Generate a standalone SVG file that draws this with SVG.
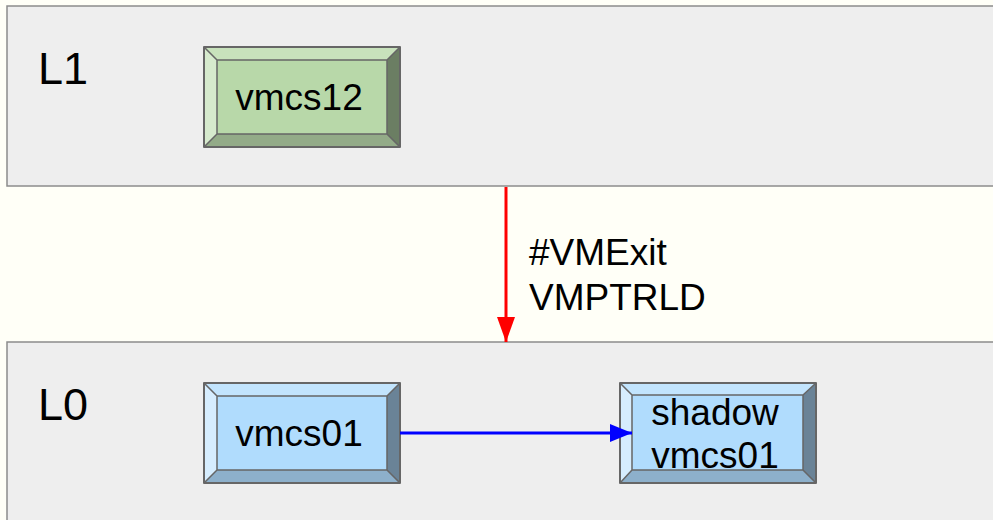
<svg xmlns="http://www.w3.org/2000/svg" width="993" height="520" viewBox="0 0 993 520">
  <style>
    .panel { fill: #eeeeee; stroke: #8c8c8c; stroke-width: 1.5; }
    .lbl { font-family: "Liberation Sans", Arial, sans-serif; font-size: 37px; fill: #000; }
    .big { font-size: 45px; }
    .edge { stroke: #666666; stroke-width: 2; stroke-linejoin: round; }
    .seam { stroke: #666666; stroke-width: 1.5; fill: none; }
  </style>
  <defs>
    <marker id="headRed" markerWidth="25" markerHeight="18" refX="25" refY="9" orient="auto" markerUnits="userSpaceOnUse" viewBox="0 0 25 18">
      <path d="M0 0 L25 9 L0 18 Z" fill="#ff0000"/>
    </marker>
    <marker id="headBlue" markerWidth="22" markerHeight="18" refX="22" refY="9" orient="auto" markerUnits="userSpaceOnUse" viewBox="0 0 22 18">
      <path d="M0 0 L22 9 L0 18 Z" fill="#0000ff"/>
    </marker>
  </defs>

  <rect x="0" y="0" width="993" height="520" fill="#fffff7"/>

  <!-- guest level -->
  <g id="layer-L1">
    <rect class="panel" x="7" y="6" width="990" height="180"/>
    <text class="lbl big" x="38" y="84">L1</text>
  </g>

  <!-- host level -->
  <g id="layer-L0">
    <rect class="panel" x="7" y="342" width="990" height="182"/>
    <text class="lbl big" x="38" y="420">L0</text>
  </g>

  <!-- bevelled boxes -->
  <g id="vmcs12">
    <polygon points="204,47 400,47 387,60 217,60" fill="#c8e2bc"/>
    <polygon points="204,47 217,60 217,134 204,147" fill="#d6eacd"/>
    <polygon points="400,47 400,147 387,134 387,60" fill="#6b7e63"/>
    <polygon points="204,147 400,147 387,134 217,134" fill="#93ab88"/>
    <rect x="217" y="60" width="170" height="74" fill="#b8d8a9"/>
    <path class="seam" d="M204 47 L217 60 M400 47 L387 60 M400 147 L387 134 M204 147 L217 134 M217 60 H387 V134 H217 Z"/>
    <rect class="edge" x="204" y="47" width="196" height="100" fill="none"/>
    <text class="lbl" x="299" y="110" text-anchor="middle">vmcs12</text>
  </g>

  <g id="vmcs01">
    <polygon points="204,383 400,383 387,396 217,396" fill="#c2e4fd"/>
    <polygon points="204,383 217,396 217,470 204,483" fill="#d6edfe"/>
    <polygon points="400,383 400,483 387,470 387,396" fill="#6a8397"/>
    <polygon points="204,483 400,483 387,470 217,470" fill="#8db0cb"/>
    <rect x="217" y="396" width="170" height="74" fill="#b0dcfd"/>
    <path class="seam" d="M204 383 L217 396 M400 383 L387 396 M400 483 L387 470 M204 483 L217 470 M217 396 H387 V470 H217 Z"/>
    <rect class="edge" x="204" y="383" width="196" height="100" fill="none"/>
    <text class="lbl" x="299" y="446" text-anchor="middle">vmcs01</text>
  </g>

  <g id="shadow-vmcs01">
    <polygon points="620,383 816,383 803,395 632,395" fill="#c2e4fd"/>
    <polygon points="620,383 632,395 632,470 620,483" fill="#d6edfe"/>
    <polygon points="816,383 816,483 803,470 803,395" fill="#6a8397"/>
    <polygon points="620,483 816,483 803,470 632,470" fill="#8db0cb"/>
    <rect x="632" y="395" width="171" height="75" fill="#b0dcfd"/>
    <path class="seam" d="M620 383 L632 395 M816 383 L803 395 M816 483 L803 470 M620 483 L632 470 M632 395 H803 V470 H632 Z"/>
    <rect class="edge" x="620" y="383" width="196" height="100" fill="none"/>
    <text class="lbl" x="715" y="425" text-anchor="middle">shadow</text>
    <text class="lbl" x="715" y="468" text-anchor="middle">vmcs01</text>
  </g>

  <!-- connectors -->
  <g id="connectors">
    <line x1="506" y1="187" x2="506" y2="342" stroke="#ff0000" stroke-width="3" marker-end="url(#headRed)"/>
    <text class="lbl" x="529" y="265">#VMExit</text>
    <text class="lbl" x="529" y="310">VMPTRLD</text>
    <line x1="400" y1="433" x2="632" y2="433" stroke="#0000ff" stroke-width="3" marker-end="url(#headBlue)"/>
  </g>
</svg>
